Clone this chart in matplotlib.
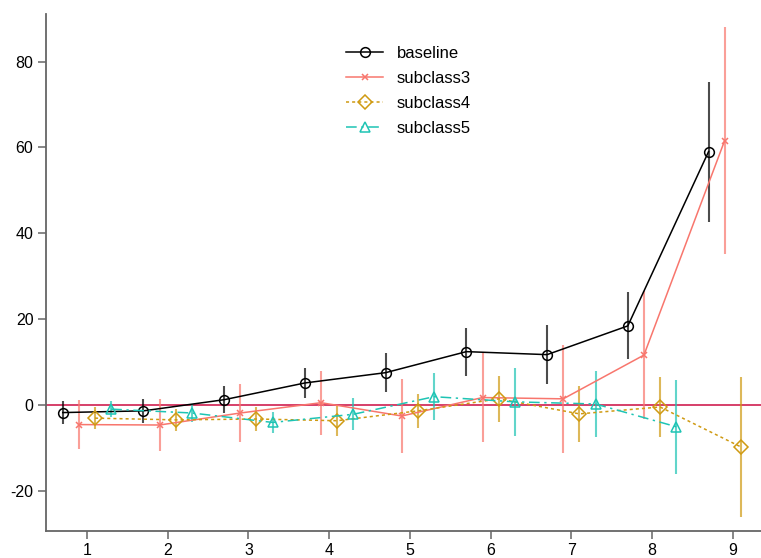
import numpy as np
import matplotlib
matplotlib.use("Agg")
import matplotlib.pyplot as plt

plt.rcParams["font.family"] = ["Liberation Sans", "DejaVu Sans"]
plt.rcParams["axes.unicode_minus"] = False

# values
groups = [1, 2, 3, 4, 5, 6, 7, 8, 9]

baseline = [-1.8, -1.4, 1.2, 5.1, 7.5, 12.4, 11.7, 18.4, 59.0]
baseline_err = [2.7, 2.8, 3.1, 3.6, 4.5, 5.6, 6.8, 7.8, 16.3]

subclass3 = [-4.6, -4.7, -1.9, 0.5, -2.6, 1.7, 1.4, 11.6, 61.6]
subclass3_err = [5.8, 6.0, 6.8, 7.5, 8.6, 10.3, 12.6, 15.0, 26.5]

subclass4 = [-3.1, -3.5, -3.3, -3.7, -1.4, 1.4, -2.1, -0.5, -9.8]
subclass4_err = [2.5, 2.6, 2.9, 3.5, 4.0, 5.3, 6.5, 7.0, 16.4]

subclass5 = [-1.0, -1.9, -4.1, -2.2, 1.9, 0.7, 0.2, -5.1]
subclass5_err = [1.8, 2.2, 2.5, 3.7, 5.5, 7.9, 7.7, 11.0]

series = [
    ("baseline", baseline, baseline_err, -0.3, "black", "o", 7, "-"),
    ("subclass3", subclass3, subclass3_err, -0.1, "#F8766D", "x", 5, "-"),
    ("subclass4", subclass4, subclass4_err, 0.1, "#CF9A12", "D", 7.5, (0, (2, 2))),
    ("subclass5", subclass5, subclass5_err, 0.3, "#1EC4B4", "^", 7, (0, (7, 3, 1.5, 3))),
]

fig = plt.figure(figsize=(7.61, 5.58), dpi=100)
ax = fig.add_axes([0.0604, 0.0484, 0.9396, 0.9266])

ax.axhline(0, color="#d3305e", lw=1.3, zorder=1)

for name, vals, errs, off, col, mk, ms, ls in series:
    x = np.array(groups[:len(vals)]) + off
    ax.errorbar(x, vals, yerr=errs, fmt="none", ecolor=col, elinewidth=1.5,
                alpha=0.7, capsize=0, zorder=2)
    ax.plot(x, vals, color=col, ls=ls, lw=1.1, marker=mk, ms=ms,
            mfc="none", mec=col, mew=1.1, label=name, zorder=3)

ax.set_xlim(0.492, 9.35)
ax.set_ylim(-29.4, 91.1)
ax.set_xticks(groups)
ax.set_yticks([-20, 0, 20, 40, 60, 80])

for s in ["top", "right"]:
    ax.spines[s].set_visible(False)
for s in ["left", "bottom"]:
    ax.spines[s].set_color("#666666")
    ax.spines[s].set_linewidth(1.3)
ax.tick_params(colors="#666666", labelcolor="black", labelsize=11.5,
               length=5.5, width=1.1)

ax.legend(loc="upper left", bbox_to_anchor=(0.455, 0.917),
          bbox_transform=fig.transFigure, frameon=False, borderpad=0,
          borderaxespad=0, fontsize=12, handlelength=2.2, handletextpad=0.85,
          labelspacing=0.6)

fig.savefig("out.png", dpi=100)
